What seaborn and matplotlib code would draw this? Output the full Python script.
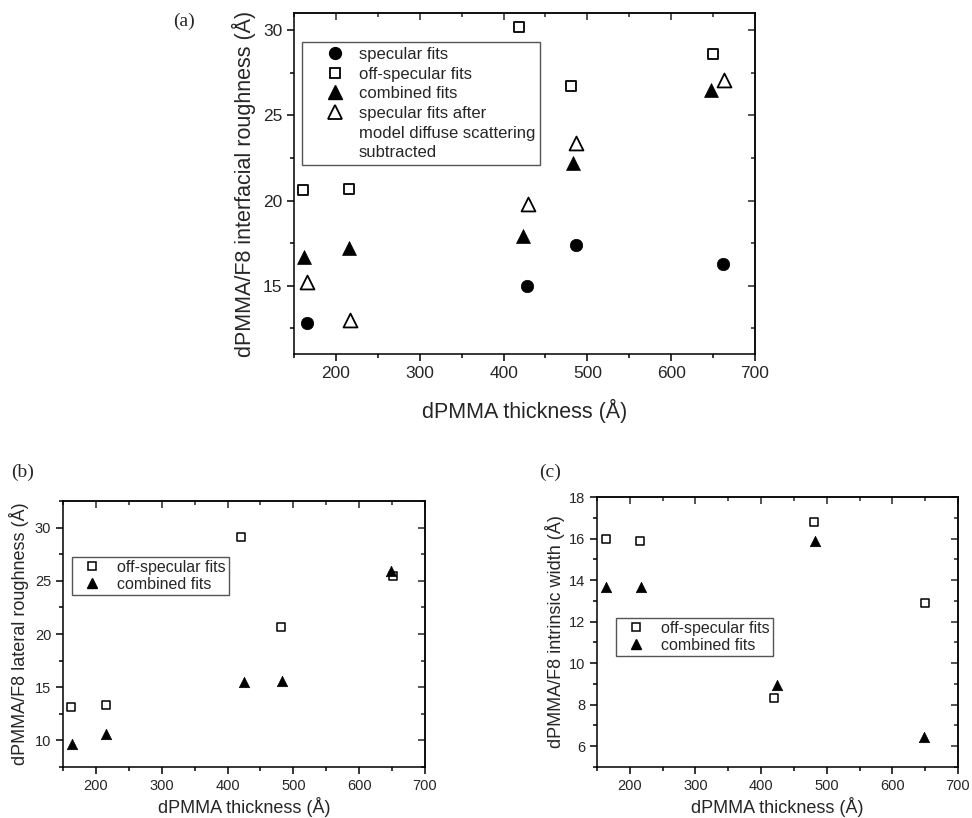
import matplotlib
matplotlib.use("Agg")
import matplotlib.pyplot as plt
from matplotlib.lines import Line2D
from matplotlib.ticker import MultipleLocator
import seaborn as sns

# --- data ---
# (a) interfacial roughness
a_spec_x = [166, 428, 486, 662]
a_spec_y = [12.8, 15.0, 17.4, 16.3]
a_off_x = [161, 215, 418, 481, 650]
a_off_y = [20.6, 20.7, 30.2, 26.7, 28.6]
a_comb_x = [162, 215, 423, 483, 647]
a_comb_y = [16.7, 17.2, 17.9, 22.2, 26.5]
a_sub_x = [166, 217, 429, 486, 663]
a_sub_y = [15.2, 13.0, 19.8, 23.4, 27.1]

# (b) lateral roughness
b_off_x = [162, 215, 420, 481, 651]
b_off_y = [13.1, 13.3, 29.1, 20.7, 25.5]
b_comb_x = [164, 215, 425, 483, 648]
b_comb_y = [9.65, 10.6, 15.5, 15.6, 25.9]

# (c) intrinsic width
c_off_x = [163, 216, 419, 480, 650]
c_off_y = [16.0, 15.9, 8.3, 16.8, 12.9]
c_comb_x = [164, 217, 424, 482, 648]
c_comb_y = [13.65, 13.65, 8.95, 15.9, 6.45]

XLABEL = "dPMMA thickness (Å)"

sns.set_style("ticks")
plt.rcParams["font.family"] = ["Liberation Sans", "DejaVu Sans"]
plt.rcParams["axes.linewidth"] = 1.1

fig = plt.figure(figsize=(9.72, 8.18), dpi=100)
ax_a = fig.add_axes([0.3025, 0.5672, 0.4743, 0.4169])
ax_b = fig.add_axes([0.0648, 0.0623, 0.3724, 0.3252])
ax_c = fig.add_axes([0.6142, 0.0623, 0.3714, 0.3301])


def style_axes(ax, ylim, ymaj, ymin, tick_fs, lab_fs, ylabel, ypad, xpad):
    ax.set_xlim(150, 700)
    ax.set_ylim(*ylim)
    ax.xaxis.set_major_locator(MultipleLocator(100))
    ax.xaxis.set_minor_locator(MultipleLocator(50))
    ax.yaxis.set_major_locator(MultipleLocator(ymaj))
    ax.yaxis.set_minor_locator(MultipleLocator(ymin))
    ax.tick_params(which="both", direction="out", width=1.1, labelsize=tick_fs,
                   color="black", top=False, right=False)
    ax.tick_params(which="major", length=5)
    ax.tick_params(which="minor", length=3)
    for sp in ax.spines.values():
        sp.set_visible(True)
        sp.set_color("black")
    # mirrored ticks pointing inwards on top / right
    top = ax.secondary_xaxis("top")
    top.xaxis.set_major_locator(MultipleLocator(100))
    top.xaxis.set_minor_locator(MultipleLocator(50))
    top.tick_params(which="both", direction="in", labeltop=False, width=1.1)
    top.tick_params(which="major", length=5)
    top.tick_params(which="minor", length=3)
    right = ax.secondary_yaxis("right")
    right.yaxis.set_major_locator(MultipleLocator(ymaj))
    right.yaxis.set_minor_locator(MultipleLocator(ymin))
    right.tick_params(which="both", direction="in", labelright=False, width=1.1)
    right.tick_params(which="major", length=5)
    right.tick_params(which="minor", length=3)
    ax.set_xlabel(XLABEL, fontsize=lab_fs, labelpad=xpad)
    ax.set_ylabel(ylabel, fontsize=lab_fs, labelpad=ypad)


def open_pts(ax, x, y, marker, s, lw):
    sns.scatterplot(x=x, y=y, ax=ax, marker=marker, s=s, color="white",
                    edgecolor="black", linewidth=lw, zorder=3)


def full_pts(ax, x, y, marker, s):
    sns.scatterplot(x=x, y=y, ax=ax, marker=marker, s=s, color="black",
                    edgecolor="black", linewidth=0.5, zorder=3)


# ---- panel (a) ----
full_pts(ax_a, a_spec_x, a_spec_y, "o", 80)
open_pts(ax_a, a_off_x, a_off_y, "s", 50, 1.3)
full_pts(ax_a, a_comb_x, a_comb_y, "^", 100)
open_pts(ax_a, a_sub_x, a_sub_y, "^", 100, 1.3)
style_axes(ax_a, (11, 31), 5, 2.5, 12.5, 15.5,
           "dPMMA/F8 interfacial roughness (Å)", 5, 13)

blank = Line2D([], [], linestyle="none", marker=None)
handles_a = [
    Line2D([], [], linestyle="none", marker="o", ms=8.5, color="black"),
    Line2D([], [], linestyle="none", marker="s", ms=7, mfc="white", mec="black", mew=1.3),
    Line2D([], [], linestyle="none", marker="^", ms=9.5, color="black"),
    Line2D([], [], linestyle="none", marker="^", ms=9.5, mfc="white", mec="black", mew=1.3),
    blank, blank,
]
labels_a = ["specular fits", "off-specular fits", "combined fits",
            "specular fits after", "model diffuse scattering", "subtracted"]
leg = ax_a.legend(handles_a, labels_a, loc="upper left", bbox_to_anchor=(0.017, 0.915),
                  borderaxespad=0, fontsize=12, frameon=True, fancybox=False,
                  edgecolor="#555555", framealpha=1, borderpad=0.3,
                  handlelength=3.4, handletextpad=-0.3, labelspacing=0.28)
leg.get_frame().set_linewidth(1.0)

# ---- panel (b) ----
open_pts(ax_b, b_off_x, b_off_y, "s", 36, 1.1)
full_pts(ax_b, b_comb_x, b_comb_y, "^", 56)
style_axes(ax_b, (7.5, 32.5), 5, 2.5, 10.5, 13,
           "dPMMA/F8 lateral roughness (Å)", 4, 3)
handles_bc = [
    Line2D([], [], linestyle="none", marker="s", ms=6, mfc="white", mec="black", mew=1.1),
    Line2D([], [], linestyle="none", marker="^", ms=7.5, color="black"),
]
labels_bc = ["off-specular fits", "combined fits"]
leg = ax_b.legend(handles_bc, labels_bc, loc="upper left", bbox_to_anchor=(0.026, 0.79),
                  borderaxespad=0, fontsize=11.5, frameon=True, fancybox=False,
                  edgecolor="#555555", framealpha=1, borderpad=0.2,
                  handlelength=2.1, handletextpad=0.5, labelspacing=0.12)
leg.get_frame().set_linewidth(1.0)

# ---- panel (c) ----
open_pts(ax_c, c_off_x, c_off_y, "s", 36, 1.1)
full_pts(ax_c, c_comb_x, c_comb_y, "^", 56)
style_axes(ax_c, (5, 18), 2, 1, 10.5, 13,
           "dPMMA/F8 intrinsic width (Å)", 3, 3)
leg = ax_c.legend(handles_bc, labels_bc, loc="upper left", bbox_to_anchor=(0.053, 0.553),
                  borderaxespad=0, fontsize=11.5, frameon=True, fancybox=False,
                  edgecolor="#555555", framealpha=1, borderpad=0.2,
                  handlelength=2.1, handletextpad=0.5, labelspacing=0.12)
leg.get_frame().set_linewidth(1.0)

# panel letters
serif = ["Liberation Serif", "DejaVu Serif"]
fig.text(0.189, 0.974, "(a)", ha="center", va="center", fontsize=14, family=serif)
fig.text(0.0236, 0.422, "(b)", ha="center", va="center", fontsize=14, family=serif)
fig.text(0.5658, 0.422, "(c)", ha="center", va="center", fontsize=14, family=serif)

fig.savefig("out.png", dpi=100, facecolor="white")
